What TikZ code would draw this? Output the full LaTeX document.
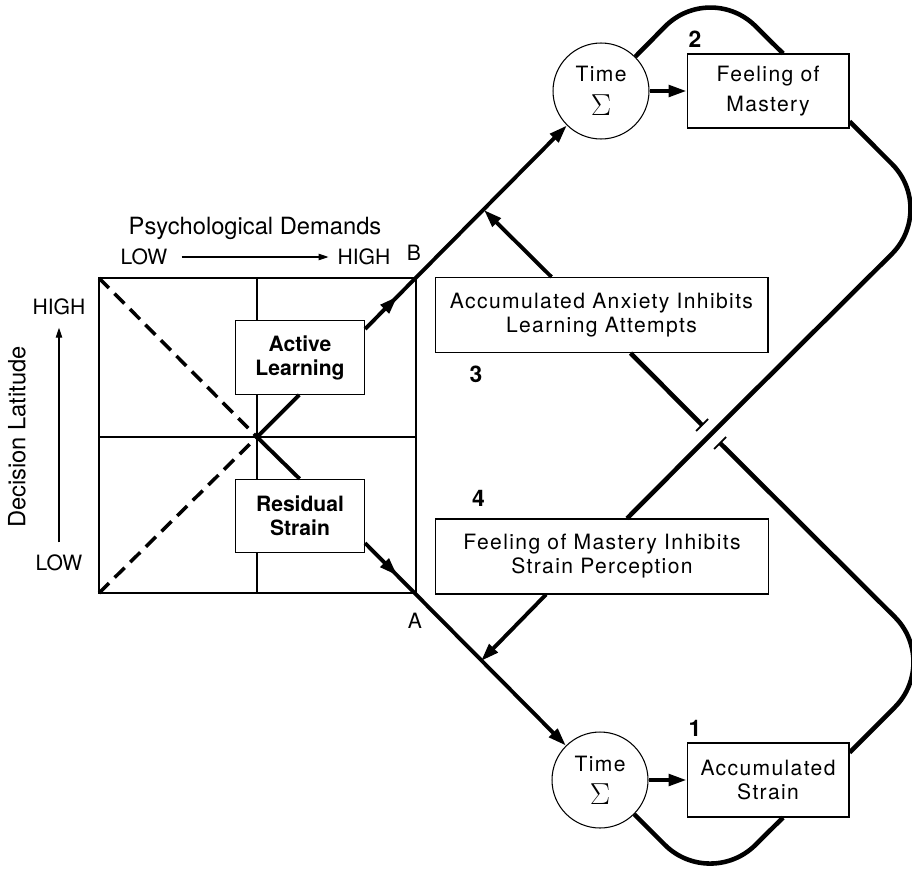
\documentclass[tikz,border=0pt]{standalone}
\usepackage{fontspec}
\setmainfont{TeX Gyre Heros}
\usetikzlibrary{arrows.meta,positioning,calc,decorations.markings}
\tikzset{
  boxnode/.style={draw,line width=0.6pt,fill=white,minimum width=3.24cm,minimum height=1.48cm,align=center,inner sep=2pt,font=\fontsize{12}{13.6}\selectfont\addfontfeature{LetterSpace=6.5}},
  widebox/.style={boxnode,minimum width=6.66cm,minimum height=1.5cm},
  cellbox/.style={boxnode,minimum width=2.58cm,minimum height=1.47cm,font=\fontsize{12}{13.6}\selectfont\bfseries},
  sumnode/.style={draw,circle,line width=0.6pt,fill=white,minimum size=1.92cm,inner sep=0pt,align=center,font=\fontsize{12}{14}\selectfont\addfontfeature{LetterSpace=6.5}},
  numlabel/.style={inner xsep=1pt,inner ysep=3pt,font=\fontsize{13}{13}\selectfont\bfseries},
  axistext/.style={inner sep=0pt,font=\fontsize{12}{13.6}\selectfont},
  titletext/.style={inner sep=0pt,font=\fontsize{13.5}{14}\selectfont},
  flow/.style={line width=2.2pt},
  loopline/.style={line width=2.6pt,rounded corners=1.28cm},
  endtip/.style={-{Triangle[length=3.6mm,width=2.3mm]}},
  midtip/.style={postaction={decorate},decoration={markings,mark=at position #1 with {\arrow{Triangle[length=3.6mm,width=2.3mm]}}}},
  gridline/.style={line width=0.8pt},
  dashline/.style={line width=2pt,dash pattern=on 8pt off 4.5pt},
  thinarrow/.style={line width=0.6pt,-{Triangle[length=2mm,width=1.3mm]}},
  bridgetick/.style={line width=1pt}
}
\begin{document}
\begin{tikzpicture}[x=0.02cm,y=-0.02cm]
  \useasboundingbox (0,0) rectangle (912,869);

  % demand / latitude matrix
  \coordinate (gtl) at (99,278);
  \coordinate (gtr) at (416,278);
  \coordinate (gbl) at (99,593);
  \coordinate (gbr) at (416,593);
  \coordinate (gc) at (257,437);
  \draw[gridline] (gtl) rectangle (gbr);
  \draw[gridline] (gc |- gtl) -- (gc |- gbl);
  \draw[gridline] (gc -| gtl) -- (gc -| gtr);
  \draw[dashline] (gtl) -- (gc);
  \draw[dashline] (gbl) -- (gc);

  \node[cellbox] (active) at (300,357.5) {Active\\Learning};
  \node[cellbox] (residual) at (300,516) {Residual\\Strain};

  \draw[flow] (gc) -- (intersection of gc--gbr and residual.north west--residual.north east);
  \draw[flow] (gc) -- (intersection of gc--gtr and active.south west--active.south east);

  % axis labels
  \node[titletext] (psych) at (255,228) {Psychological Demands};
  \node[axistext] (lowx) at (144,257) {LOW};
  \node[axistext] (highx) at (364,257) {HIGH};
  \draw[thinarrow,shorten <=8pt,shorten >=5pt] (lowx) -- (highx);
  \node[axistext] (highy) at (59,307) {HIGH};
  \node[axistext] (lowy) at (59,563) {LOW};
  \draw[thinarrow,shorten <=7pt,shorten >=7pt] (lowy) -- (highy);
  \node[titletext,rotate=90] (declat) at (17,437) {Decision Latitude};
  \node[axistext] (labB) at (414,253) {B};
  \node[axistext] (labA) at (415,621) {A};

  % summing nodes and outcomes
  \node[sumnode] (timeup) at (601,91) {Time\\[5pt]{\LARGE$\Sigma$}};
  \node[boxnode,right=0.74cm of timeup] (mastery) {Feeling of\\[3.4pt]Mastery};
  \node[sumnode] (timedown) at (600,780) {Time\\[5pt]{\LARGE$\Sigma$}};
  \node[boxnode,right=0.76cm of timedown] (strain) {Accumulated\\Strain};
  \node[widebox] (anxiety) at (601.5,315) {Accumulated Anxiety Inhibits\\Learning Attempts};
  \node[widebox] (inhibit) at (602,556.5) {Feeling of Mastery Inhibits\\Strain Perception};

  \node[numlabel,anchor=south west] (n2) at (mastery.north west) {2};
  \node[numlabel,anchor=south west] (n1) at (strain.north west) {1};
  \node[numlabel,anchor=north west] (n3) at ($(anxiety.south west)+(33,7)$) {3};
  \node[numlabel,anchor=south west] (n4) at ($(inhibit.north west)+(35,-6)$) {4};

  \coordinate (jb) at (484,210);
  \coordinate (ja) at (481,661);
  \coordinate (cross) at (711,434);
  \coordinate (rtop) at (937,209);
  \coordinate (rbot) at (940,662);
  \coordinate (ttop) at (710,-19);
  \coordinate (tbot) at (710,890);

  % main paths
  \draw[flow,midtip=0.16,endtip] (intersection of gc--gtr and active.north east--active.south east) -- (timeup);
  \draw[flow,midtip=0.16,endtip] (intersection of gc--gbr and residual.north east--residual.south east) -- (timedown);
  \draw[flow,endtip] (timeup) -- (mastery);
  \draw[flow,endtip] (timedown) -- (strain);
  \draw[flow,endtip] ($(anxiety.north west)+(117,0)$) -- (jb);
  \draw[flow,endtip] ($(inhibit.south west)+(111,0)$) -- (ja);

  % feedback loops
  \draw[loopline] (timeup.north east) -- (ttop) -- ($(mastery.north)+(15,0)$);
  \draw[loopline] (timedown.south east) -- (tbot) -- ($(strain.south)+(15,0)$);
  \draw[loopline] ($(strain.north east)+(0,10)$) -- (rbot) -- ($(cross)+(9,9)$);
  \draw[loopline] ($(cross)+(-9,-9)$) -- ($(anxiety.south)+(29,0)$);
  \draw[bridgetick] ($(cross)+(-15,-3)$) -- ($(cross)+(-3,-15)$);
  \draw[bridgetick] ($(cross)+(3,15)$) -- ($(cross)+(15,3)$);
  \draw[loopline] ($(mastery.south east)+(0,-7)$) -- (rtop) -- (cross) -- ($(inhibit.north)+(25,0)$);
\end{tikzpicture}
\end{document}
